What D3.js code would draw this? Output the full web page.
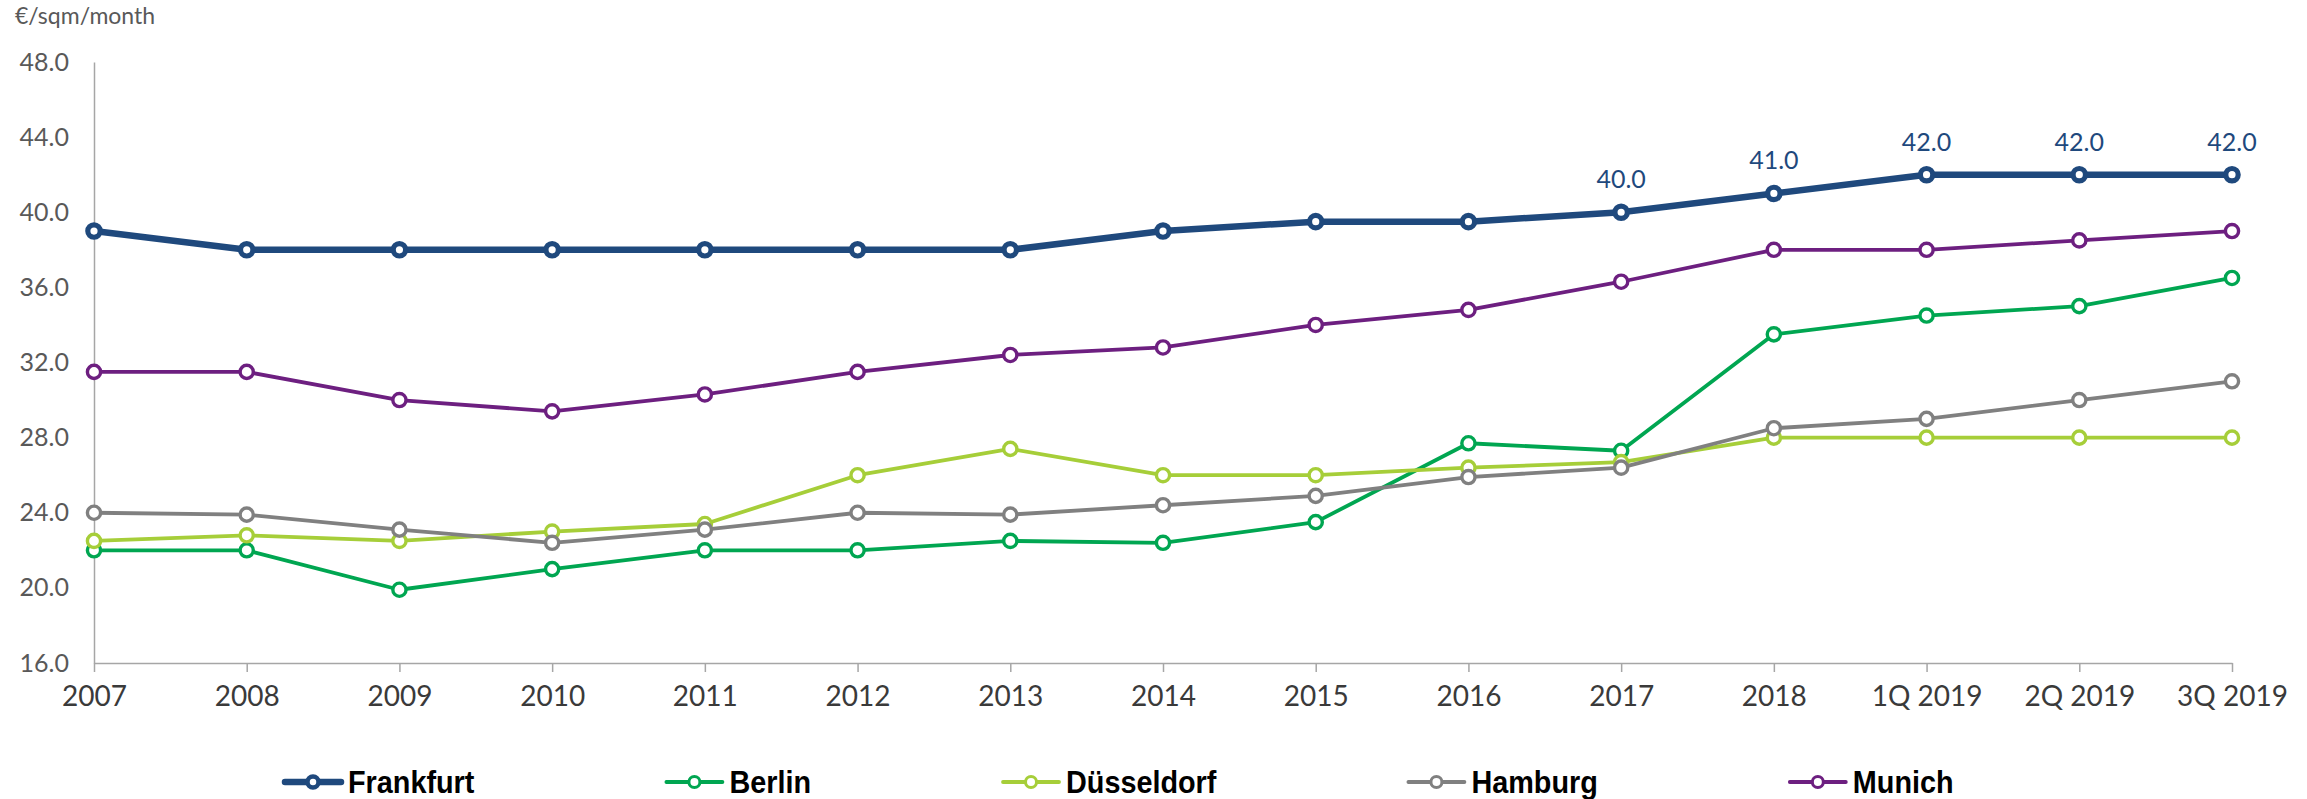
<!DOCTYPE html>
<html>
<head>
<meta charset="utf-8">
<script src="https://cdn.jsdelivr.net/npm/d3@7/dist/d3.min.js"></script>
<style>
  html, body { margin: 0; padding: 0; background: #ffffff; }
  svg { display: block; }
</style>
</head>
<body>
<svg id="chart" width="2307" height="799"></svg>
<script>
// Prime office rents in the top German cities, €/sqm/month
const periods = ["2007", "2008", "2009", "2010", "2011", "2012", "2013", "2014", "2015", "2016", "2017", "2018", "1Q 2019", "2Q 2019", "3Q 2019"];

const frankfurt  = [39.0, 38.0, 38.0, 38.0, 38.0, 38.0, 38.0, 39.0, 39.5, 39.5, 40.0, 41.0, 42.0, 42.0, 42.0];
const berlin     = [22.0, 22.0, 19.9, 21.0, 22.0, 22.0, 22.5, 22.4, 23.5, 27.7, 27.3, 33.5, 34.5, 35.0, 36.5];
const dusseldorf = [22.5, 22.8, 22.5, 23.0, 23.4, 26.0, 27.4, 26.0, 26.0, 26.4, 26.7, 28.0, 28.0, 28.0, 28.0];
const hamburg    = [24.0, 23.9, 23.1, 22.4, 23.1, 24.0, 23.9, 24.4, 24.9, 25.9, 26.4, 28.5, 29.0, 30.0, 31.0];
const munich     = [31.5, 31.5, 30.0, 29.4, 30.3, 31.5, 32.4, 32.8, 34.0, 34.8, 36.3, 38.0, 38.0, 38.5, 39.0];

const yTicks = [16, 20, 24, 28, 32, 36, 40, 44, 48];
const unitLabel = "€/sqm/month";

// Frankfurt periods that carry a value label
const labelledFrom = "2017";

const series = [
  { name: "Frankfurt",  values: frankfurt,  color: "#1f497d", width: 6.5, r: 6.2, sw: 5.2 },
  { name: "Berlin",     values: berlin,     color: "#00a651", width: 3.8, r: 6.6, sw: 3.4 },
  { name: "Düsseldorf", values: dusseldorf, color: "#a6ce39", width: 3.8, r: 6.6, sw: 3.4 },
  { name: "Hamburg",    values: hamburg,    color: "#808080", width: 3.8, r: 6.6, sw: 3.4 },
  { name: "Munich",     values: munich,     color: "#6d1f80", width: 3.8, r: 6.6, sw: 3.4 }
];

const svg = d3.select("#chart");
const font = "Lato, 'Open Sans', sans-serif";

const x = d3.scalePoint().domain(periods).range([94, 2232]).padding(0);
const y = d3.scaleLinear().domain([16, 48]).range([663, 62]);

// unit caption
svg.append("text")
  .attr("x", 15).attr("y", 24)
  .attr("font-family", font).attr("font-size", 23)
  .attr("fill", "#595959")
  .text(unitLabel);

// y axis
const yAxis = svg.append("g")
  .attr("transform", "translate(94,0)")
  .call(d3.axisLeft(y).tickValues(yTicks).tickFormat(d3.format(".1f")).tickSize(0).tickSizeOuter(0).tickPadding(25));
yAxis.select(".domain").attr("stroke", "#a6a6a6").attr("stroke-width", 1.5);
yAxis.selectAll("text")
  .attr("font-family", font).attr("font-size", 25).attr("fill", "#595959");

// x axis
const xAxis = svg.append("g")
  .attr("transform", "translate(0,663)")
  .call(d3.axisBottom(x).tickSize(9).tickSizeOuter(0).tickPadding(14));
xAxis.select(".domain").attr("stroke", "#a6a6a6").attr("stroke-width", 1.5);
xAxis.selectAll(".tick line").attr("stroke", "#a6a6a6").attr("stroke-width", 1.5);
xAxis.selectAll("text")
  .attr("font-family", font).attr("font-size", 28).attr("fill", "#3a3a3a");

const line = d3.line()
  .x((d, i) => x(periods[i]))
  .y(d => y(d));

// draw later cities on top, Frankfurt last so it stays in front
const drawOrder = [series[1], series[2], series[3], series[4], series[0]];
drawOrder.forEach(s => {
  const g = svg.append("g").attr("class", "series");
  g.append("path")
    .datum(s.values)
    .attr("d", line)
    .attr("fill", "none")
    .attr("stroke", s.color)
    .attr("stroke-width", s.width)
    .attr("stroke-linejoin", "round");
  g.selectAll("circle")
    .data(s.values)
    .join("circle")
    .attr("cx", (d, i) => x(periods[i]))
    .attr("cy", d => y(d))
    .attr("r", s.r)
    .attr("fill", "#ffffff")
    .attr("stroke", s.color)
    .attr("stroke-width", s.sw);
});

// value labels on the latest Frankfurt periods
const startIdx = periods.indexOf(labelledFrom);
svg.append("g").selectAll("text")
  .data(frankfurt.map((v, i) => ({ v, p: periods[i], i })).filter(d => d.i >= startIdx))
  .join("text")
  .attr("x", d => x(d.p))
  .attr("y", d => y(d.v) - 24)
  .attr("text-anchor", "middle")
  .attr("font-family", font).attr("font-size", 25)
  .attr("fill", "#1f497d")
  .text(d => d3.format(".1f")(d.v));

// legend (condensed bold labels)
const squeeze = 0.9;
const legend = svg.append("g").attr("transform", "translate(0,782)");
let lx = 285;
series.forEach(s => {
  const item = legend.append("g").attr("transform", `translate(${lx},0)`);
  item.append("line")
    .attr("x1", 0).attr("x2", 56).attr("y1", 0).attr("y2", 0)
    .attr("stroke", s.color).attr("stroke-width", s.name === "Frankfurt" ? 6.5 : 3.8)
    .attr("stroke-linecap", "round");
  item.append("circle")
    .attr("cx", 28).attr("cy", 0).attr("r", 5.5)
    .attr("fill", "#ffffff").attr("stroke", s.color)
    .attr("stroke-width", s.name === "Frankfurt" ? 4.5 : 3);
  const t = item.append("text")
    .attr("transform", `translate(63,11) scale(${squeeze},1)`)
    .attr("font-family", "'Liberation Sans', Arial, sans-serif")
    .attr("font-weight", "bold").attr("font-size", 32)
    .attr("fill", "#000000")
    .text(s.name);
  lx += 63 + t.node().getComputedTextLength() * squeeze + 192;
});
</script>
</body>
</html>
